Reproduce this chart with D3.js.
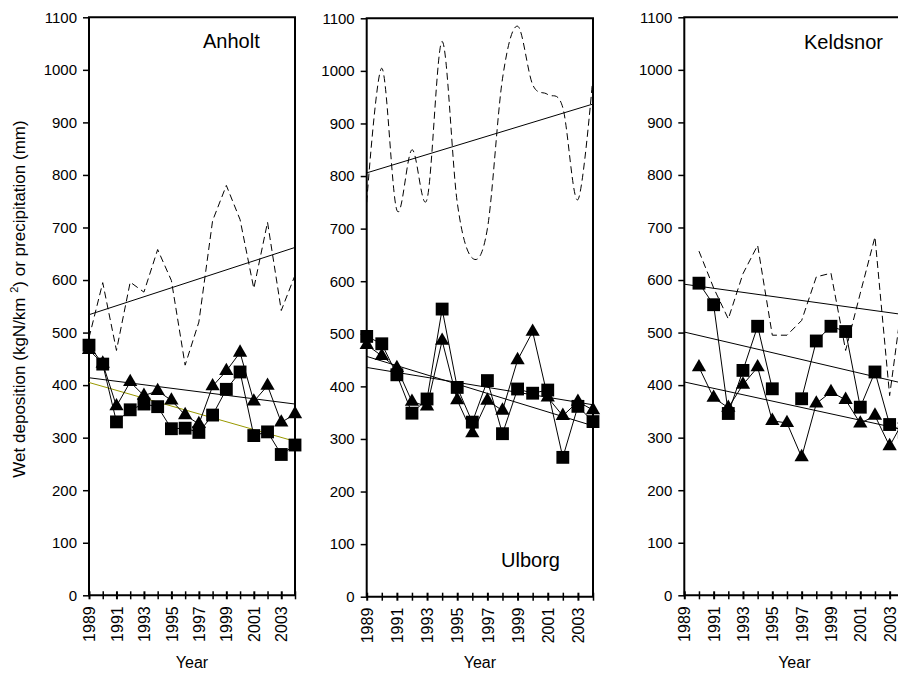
<!DOCTYPE html>
<html>
<head>
<meta charset="utf-8">
<script src="https://cdn.jsdelivr.net/npm/d3@7/dist/d3.min.js"></script>
<style>
    body { margin: 0; background: #fff; }
    svg { display: block; font-family: "Liberation Sans", Arial, sans-serif; }
</style>
</head>
<body>
<svg id="chart" width="898" height="675"></svg>
<script>
// values
const years = [1989, 1990, 1991, 1992, 1993, 1994, 1995, 1996, 1997, 1998, 1999, 2000, 2001, 2002, 2003, 2004];
const xLabelYears = [1989, 1991, 1993, 1995, 1997, 1999, 2001, 2003];
const yTicks = [0, 100, 200, 300, 400, 500, 600, 700, 800, 900, 1000, 1100];

const anholtSquares = [476, 440, 330, 353, 364, 359, 317, 318, 310, 343, 392, 425, 304, 311, 268, 286];
const anholtTriangles = [467, 441, 360, 406, 380, 389, 371, 343, 326, 398, 427, 462, 369, 399, 329, 345];
const anholtPrecip = [490, 595, 466, 596, 577, 658, 599, 438, 520, 713, 780, 715, 584, 710, 542, 609];
// trend lines: [value at 1989, value at 2004]
const anholtPrecipTrend = [534, 662];
const anholtTrendBlack = [414, 364];
const anholtTrendOlive = [405, 293];

const ulborgSquares = [495, 481, 422, 349, 376, 547, 398, 332, 411, 310, 395, 387, 393, 265, 362, 333];
const ulborgTriangles = [479, 458, 435, 371, 362, 487, 374, 311, 373, 354, 450, 504, 379, 344, 371, 355];
const ulborgPrecip = [750, 1005, 735, 850, 756, 1056, 750, 644, 700, 985, 1085, 974, 955, 930, 755, 990];
const ulborgPrecipTrend = [806, 937];
const ulborgTrendA = [457, 325];
const ulborgTrendB = [436, 365];

const keldsnorSquares = [null, 594, 553, 346, 428, 512, 393, null, 374, 484, 512, 502, 358, 425, 325, 310];
const keldsnorTriangles = [null, 434, 376, 357, 401, 434, 332, 328, 263, 365, 387, 372, 327, 342, 284, 335];
const keldsnorPrecip = [null, 655, 585, 526, 612, 666, 495, 495, 523, 606, 613, 466, 575, 682, 380, 590];
const keldsnorPrecipTrend = [592, 534];
const keldsnorTrendA = [501, 403];
const keldsnorTrendB = [406, 315];

const svg = d3.select("#chart");
svg.append("rect").attr("width", 898).attr("height", 675).attr("fill", "#fff");

const panels = [
    {name: "Anholt", box: {left: 89, right: 295, top: 17.3, bottom: 595.3}, label: {x: 203, y: 48},
        squares: anholtSquares, triangles: anholtTriangles, precip: anholtPrecip, smooth: false,
        trends: [{v: anholtPrecipTrend, c: "#000"}, {v: anholtTrendBlack, c: "#000"}, {v: anholtTrendOlive, c: "#999900"}]},
    {name: "Ulborg", box: {left: 366.7, right: 593, top: 18.3, bottom: 596.7}, label: {x: 501, y: 567},
        squares: ulborgSquares, triangles: ulborgTriangles, precip: ulborgPrecip, smooth: true,
        trends: [{v: ulborgPrecipTrend, c: "#000"}, {v: ulborgTrendA, c: "#000"}, {v: ulborgTrendB, c: "#000"}]},
    {name: "Keldsnor", box: {left: 684.3, right: 904.3, top: 17.3, bottom: 595.3}, label: {x: 804, y: 49},
        squares: keldsnorSquares, triangles: keldsnorTriangles, precip: keldsnorPrecip, smooth: false,
        trends: [{v: keldsnorPrecipTrend, c: "#000"}, {v: keldsnorTrendA, c: "#000"}, {v: keldsnorTrendB, c: "#000"}]}
];

const drawPanel = function (p) {
    const b = p.box;
    const x = d3.scaleLinear().domain([1989, 2004]).range([b.left, b.right]);
    const y = d3.scaleLinear().domain([0, 1100]).range([b.bottom, b.top]);
    const g = svg.append("g");

    // y axis
    const yAxis = g.append("g")
        .attr("transform", "translate(" + b.left + ",0)")
        .call(d3.axisLeft(y).tickValues(yTicks).tickFormat(d3.format("d"))
            .tickSize(6).tickPadding(6).tickSizeOuter(0));
    yAxis.select(".domain").remove();
    yAxis.selectAll("line").attr("stroke-width", 1.5);
    yAxis.selectAll("text").attr("font-size", 15).attr("font-family", "Liberation Sans, Arial, sans-serif").attr("fill", "#000");

    // x axis, ticks cross the axis line
    const xAxis = g.append("g")
        .attr("transform", "translate(0," + b.bottom + ")")
        .call(d3.axisBottom(x).tickValues(years).tickSize(4).tickSizeOuter(0)
            .tickFormat(d => xLabelYears.indexOf(d) >= 0 ? d : ""));
    xAxis.select(".domain").remove();
    xAxis.selectAll("line").attr("y1", -4).attr("y2", 4)
        .attr("stroke-width", d => xLabelYears.indexOf(d) >= 0 ? 2 : 1.5);
    xAxis.selectAll("text")
        .attr("font-size", 16).attr("font-family", "Liberation Sans, Arial, sans-serif").attr("fill", "#000")
        .attr("transform", "rotate(-90)")
        .attr("text-anchor", "end")
        .attr("x", -11).attr("y", 0).attr("dy", "0.35em");

    g.append("text")
        .attr("x", (b.left + b.right) / 2).attr("y", 668)
        .attr("text-anchor", "middle").attr("font-size", 16)
        .text("Year");

    // frame
    g.append("path")
        .attr("d", "M" + b.left + "," + b.bottom + "V" + b.top + "H" + b.right + "V" + b.bottom + "Z")
        .attr("fill", "none").attr("stroke", "#000").attr("stroke-width", 2);

    // trend lines
    g.selectAll("line.trend").data(p.trends).enter().append("line")
        .attr("class", "trend")
        .attr("x1", x(1989)).attr("x2", x(2004))
        .attr("y1", d => y(d.v[0])).attr("y2", d => y(d.v[1]))
        .attr("stroke", d => d.c).attr("stroke-width", 1);

    // precipitation
    const precipLine = d3.line()
        .defined(d => d[1] != null)
        .x(d => x(d[0])).y(d => y(d[1]))
        .curve(p.smooth ? d3.curveCardinal.tension(0) : d3.curveLinear);
    g.append("path")
        .datum(years.map((yr, i) => [yr, p.precip[i]]))
        .attr("d", precipLine)
        .attr("fill", "none").attr("stroke", "#000").attr("stroke-width", 1)
        .attr("stroke-dasharray", "7,4");

    const depLine = d3.line()
        .defined(d => d[1] != null)
        .x(d => x(d[0])).y(d => y(d[1]));

    [{vals: p.triangles, shape: d3.symbolTriangle, size: 88},
        {vals: p.squares, shape: d3.symbolSquare, size: 165}].forEach(function (s) {
        const pts = years.map((yr, i) => [yr, s.vals[i]]);
        g.append("path").datum(pts).attr("d", depLine)
            .attr("fill", "none").attr("stroke", "#000").attr("stroke-width", 1);
        g.selectAll(null).data(pts.filter(d => d[1] != null)).enter().append("path")
            .attr("transform", d => "translate(" + x(d[0]) + "," + y(d[1]) + ")")
            .attr("d", d3.symbol().type(s.shape).size(s.size))
            .attr("fill", "#000");
    });

    g.append("text")
        .attr("x", p.label.x).attr("y", p.label.y)
        .attr("font-size", 20)
        .text(p.name);
};

panels.forEach(drawPanel);

// shared y title
const title = svg.append("text")
    .attr("transform", "translate(25,299) rotate(-90)")
    .attr("text-anchor", "middle")
    .attr("font-size", 17);
title.append("tspan").text("Wet deposition (kgN/km ");
title.append("tspan").attr("font-size", 11).attr("dy", -7).text("2");
title.append("tspan").attr("dy", 7).text(") or precipitation (mm)");
</script>
</body>
</html>
